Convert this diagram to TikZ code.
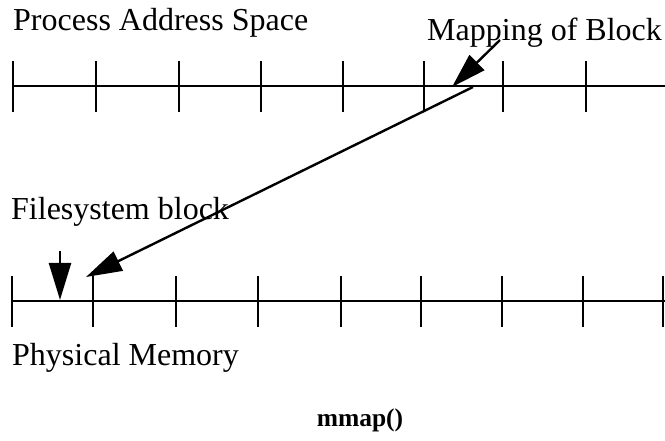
\documentclass[tikz,border=0pt]{standalone}
\usepackage{fontspec}
\setmainfont{Liberation Serif}
\usetikzlibrary{arrows.meta}
\begin{document}
\begin{tikzpicture}[x=1pt,y=-1pt,
  axis/.style={line width=2.4pt},
  tick/.style={line width=2.4pt},
  ptr/.style={line width=2.4pt,-{Triangle[length=36pt,width=21pt]}},
  label/.style={inner sep=0pt,anchor=base west,font=\fontsize{32}{32}\selectfont},
  caption/.style={inner sep=0pt,anchor=base,font=\fontsize{25.5}{25.5}\selectfont\bfseries}]
\useasboundingbox (0,0) rectangle (665,441);
% address space (top) and physical memory (bottom) scales
\coordinate (va0) at (13,86);  \coordinate (va1) at (665,86);
\coordinate (pm0) at (12,301); \coordinate (pm1) at (665,301);
\draw[axis] (va0) -- (va1);
\draw[axis] (pm0) -- (pm1);
\foreach \x in {13,96,179,261,343,424,503,586}
  \draw[tick] (\x,61) -- (\x,112);
\foreach \x in {12,93,176,258,341,421,502,583,663}
  \draw[tick] (\x,276) -- (\x,327);
% labels
\node[label] (pas) at (13,31) {Process Address Space};
\node[label] (mob) at (427,41) {Mapping of Block};
\node[label] (fsb) at (11,220) {Filesystem block};
\node[label] (phm) at (12,366) {Physical Memory};
\node[caption] (cap) at (360,426) {mmap()};
% pointers
\coordinate (mobTail) at (500,40);
\coordinate (mobTip) at (452,87);
\coordinate (mapFrom) at (473,87);
\coordinate (mapTo) at (86,277);
\coordinate (fsbTail) at (60,251);
\coordinate (fsbTip) at (60,300);
\draw[ptr,-{Triangle[length=35pt,width=21pt]}] (mobTail) -- (mobTip);
\draw[ptr] (mapFrom) -- (mapTo);
\draw[ptr,-{Triangle[length=37pt,width=22pt]}] (fsbTail) -- (fsbTip);
\end{tikzpicture}
\end{document}
